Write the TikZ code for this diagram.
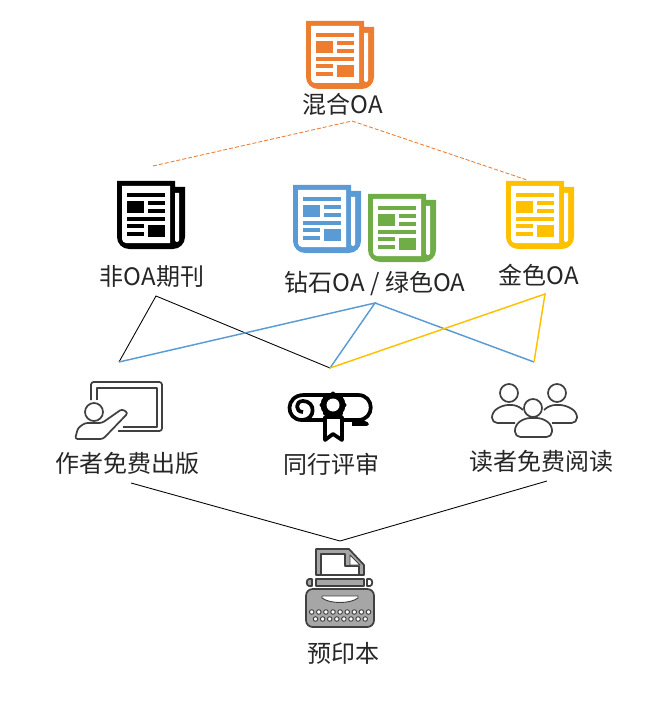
\documentclass[tikz,border=0pt]{standalone}
\usepackage{xcolor}
\usepackage{fontspec}
\setmainfont{Noto Sans CJK SC}
\usepackage{tikz}
\usetikzlibrary{positioning}

\definecolor{oaorange}{HTML}{ED7D31}
\definecolor{oablue}{HTML}{5B9BD5}
\definecolor{oagreen}{HTML}{70AD47}
\definecolor{oayellow}{HTML}{FFC000}
\definecolor{icongray}{HTML}{A6A6A6}
\definecolor{icondark}{HTML}{404040}

\tikzset{
  pics/newspaper/.style={code={
    \fill[#1] (0,0) -- (58,0) -- (58,6) -- (68,6) [rounded corners=9] -- (68,68) -- (0,68) [sharp corners] -- cycle;
    \fill[white] (5,5) -- (53,5) -- (53,62) [rounded corners=3] -- (5,62) [sharp corners] -- cycle;
    \fill[white] (58,12) -- (62,12) [rounded corners=1.5] -- (62,61) -- (58,61) [sharp corners] -- cycle;
    \fill[#1] (10,12) rectangle (48,16);
    \fill[#1] (10,20) rectangle (27,32);
    \fill[#1] (31,20) rectangle (48,24);
    \fill[#1] (31,28) rectangle (48,32);
    \fill[#1] (10,36) rectangle (48,40);
    \fill[#1] (10,43) rectangle (27,47);
    \fill[#1] (10,51) rectangle (27,55);
    \fill[#1] (31,44) rectangle (48,56);
  }}
}

\begin{document}
\begin{tikzpicture}[
  x=0.75pt, y=-0.75pt,
  lbl/.style={inner sep=0pt, font=\fontsize{18}{20}\selectfont, text=black!85},
  link/.style={line width=0.65pt},
  hue/.style={line width=1.1pt},
  icon/.style={draw=icondark, line width=1.3pt, line join=round},
  seal/.style={draw=black, line width=2.8pt, line join=round},
  keycap/.style={circle, draw=icondark, fill=white, line width=0.7pt, minimum size=3.4pt, inner sep=0pt}
]
  \useasboundingbox (0,0) rectangle (666,720);

  % newspapers
  \pic at (306,21)  {newspaper=oaorange};
  \pic at (117,181) {newspaper=black};
  \pic at (293,185) {newspaper=oablue};
  \pic at (368,194) {newspaper=oagreen};
  \pic at (506,181) {newspaper=oayellow};

  % author icon
  \draw[icon, rounded corners=2] (91,400) -- (91,382) -- (162,382) -- (162,431) -- (118,431);
  \draw[icon] (97,400) -- (97,388) -- (157,388) -- (157,427) -- (123,427);
  \draw[icon] (94,412) circle (9);
  \draw[icon, rounded corners=2] (75,439) -- (78,428) -- (85,423) -- (102,423) -- (122,409) -- (128,413) -- (103,439) -- cycle;

  % review icon
  \draw[seal] (304,395) -- (358,395) .. controls (375,395) and (375,420) .. (358,420) -- (302,420);
  \draw[seal] (358,420) -- (367,424) -- (352,424);
  \draw[seal] (304,395) .. controls (285,395) and (285,420) .. (302,420) .. controls (316,420) and (316,401) .. (303,401) .. controls (295,401) and (295,412) .. (303,412);
  \draw[seal, fill=white] (325,417) -- (325,440) -- (333,434) -- (342,440) -- (342,417) -- cycle;
  \foreach \a in {0,45,...,315}
    \fill[black] (333,405) ++(\a:11.5) circle (2);
  \fill[black] (333,405) circle (12.5);
  \fill[white] (333,405) circle (6.5);

  % reader icon
  \draw[icon] (509,393) circle (9);
  \draw[icon] (557,393) circle (9);
  \draw[icon, rounded corners=4] (523,410) -- (517,405) -- (503,405) -- (492,412) -- (492,423) -- (515,423);
  \draw[icon, rounded corners=4] (544,410) -- (550,405) -- (565,405) -- (577,412) -- (577,423) -- (552,423);
  \draw[icon] (533,408) circle (9);
  \draw[icon, rounded corners=4] (515,437) -- (515,425) -- (525,418) -- (542,418) -- (552,425) -- (552,437) -- cycle;

  % typewriter icon
  \draw[icon, fill=icongray] (316,575) -- (316,549) -- (349,549) -- (364,565) -- (364,575) -- cycle;
  \draw[icon, fill=white] (321,575) -- (321,554) -- (345,554) -- (345,566) -- (359,566) -- (359,575) -- cycle;
  \draw[icon, fill=white, line width=0.6pt] (350,555) -- (360,565) -- (350,565) -- cycle;
  \draw[icon, fill=icongray] (316,579) rectangle (364,586);
  \draw[icon, fill=icongray] (312,579) -- (312,586) -- (309,586) .. controls (306,586) and (306,579) .. (309,579) -- cycle;
  \draw[icon, fill=white] (367,579) -- (367,586) -- (370,586) .. controls (373,586) and (373,579) .. (370,579) -- cycle;
  \draw[icon, fill=icongray, rounded corners=5] (306,589) rectangle (374,627);
  \draw[icon, fill=white, line width=0.7pt] (322,596) -- (358,596) -- (358,598) .. controls (350,604) and (330,604) .. (322,598) -- cycle;
  \foreach \i in {0,...,8}
    \node[keycap] (ka\i) at (311.7+7.1*\i,612) {};
  \foreach \i in {0,...,7}
    \node[keycap] (kb\i) at (315.5+7.1*\i,619) {};

  % labels
  \node[lbl] (hybrid)  at (343,104) {混合OA};
  \node[lbl] (nonoa)   at (152,276) {非OA期刊};
  \node[lbl] (diamond) at (375,284) {钻石OA / 绿色OA};
  \node[lbl] (gold)    at (539,275) {金色OA};
  \node[lbl] (author)  at (127,463) {作者免费出版};
  \node[lbl] (review)  at (331,464) {同行评审};
  \node[lbl] (reader)  at (541,461) {读者免费阅读};
  \node[lbl] (preprint) at (343,653) {预印本};

  % connector ends
  \coordinate (hl) at (153,166);
  \coordinate (ht) at (352,121);
  \coordinate (hr) at (527,180);
  \coordinate (nt) at (156,296);
  \coordinate (al) at (119,362);
  \coordinate (rv) at (330,368);
  \coordinate (dt) at (375,303);
  \coordinate (rd) at (534,362);
  \coordinate (gt) at (545,294);
  \coordinate (pl) at (131,483);
  \coordinate (pt) at (340,541);
  \coordinate (pr) at (547,481);

  \draw[link, oaorange, dash pattern=on 3pt off 1.5pt] (hl) -- (ht) -- (hr);
  \draw[link, black] (al) -- (nt) -- (rv);
  \draw[hue, oablue] (al) -- (dt) -- (rv);
  \draw[hue, oablue] (dt) -- (rd);
  \draw[hue, oayellow] (rv) -- (gt) -- (rd);
  \draw[link, black] (pl) -- (pt) -- (pr);
\end{tikzpicture}
\end{document}
